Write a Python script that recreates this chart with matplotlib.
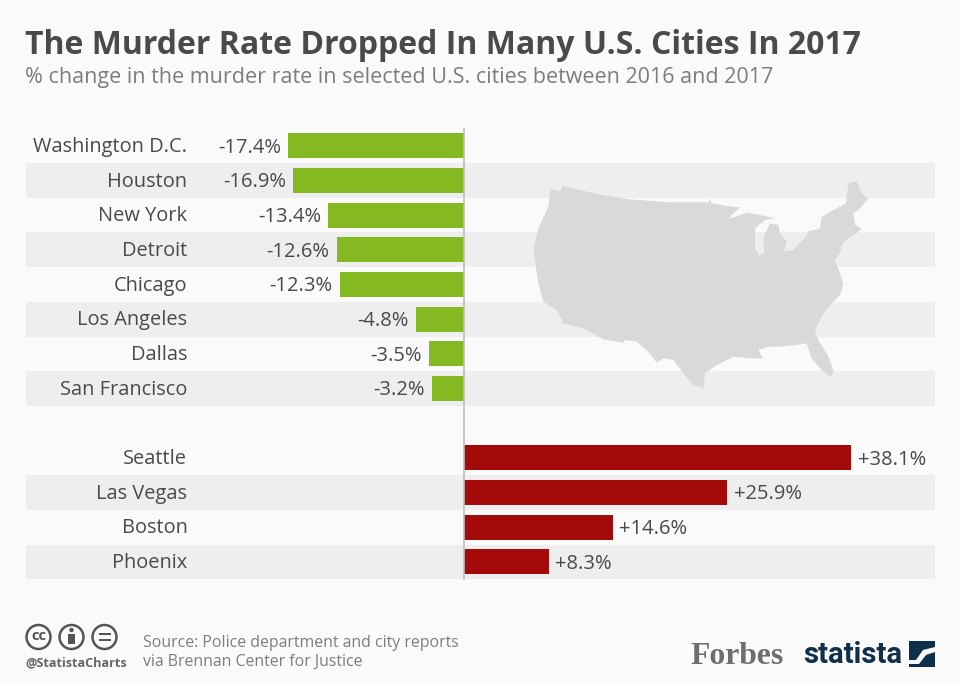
#!/usr/bin/python
# murder rate change chart, statista style
import matplotlib
matplotlib.use('Agg')
import matplotlib.pyplot as plt
from matplotlib.patches import Circle, Polygon, Rectangle

plt.rcParams['font.family'] = ['Open Sans', 'DejaVu Sans']

cities_down = ['Washington D.C.', 'Houston', 'New York', 'Detroit', 'Chicago',
               'Los Angeles', 'Dallas', 'San Francisco']
values_down = [-17.4, -16.9, -13.4, -12.6, -12.3, -4.8, -3.5, -3.2]
cities_up = ['Seattle', 'Las Vegas', 'Boston', 'Phoenix']
values_up = [38.1, 25.9, 14.6, 8.3]

map_outline = [(92,55),(120,65),(128,47),(230,72),(330,88),(450,97),(565,97),(570,88),(575,100),
               (620,108),(660,112),(625,145),(650,140),(680,128),(720,135),(765,145),(735,150),
               (705,175),(705,235),(718,258),(733,248),(730,205),(750,160),(775,165),(780,190),
               (800,215),(792,245),(820,240),(862,195),(862,185),(900,175),(905,140),(950,115),
               (978,100),(985,40),(1010,35),(1025,70),(1045,85),(1020,115),(1000,130),(1005,165),
               (1025,175),(1010,190),(985,205),(965,225),(960,250),(945,270),(960,310),(970,345),
               (960,375),(940,395),(910,430),(885,480),(895,510),(925,560),(942,605),(930,620),
               (905,600),(875,565),(860,520),(830,525),(780,530),(750,530),(715,540),(730,565),
               (690,565),(640,560),(590,585),(555,610),(550,655),(520,645),(490,610),(460,570),
               (430,565),(410,578),(385,545),(350,515),(315,510),(310,518),(250,508),(190,475),
               (130,460),(110,420),(70,395),(55,340),(40,240),(55,175),(85,110)]

BG = '#fafafa'
BAND = '#eeeeee'
GREEN = '#85b922'
RED = '#a50a0a'
TEXT = '#4a4a4a'
GREY = '#7d7d7d'

W, H = 960, 684
fig = plt.figure(figsize=(W / 100, H / 100), dpi=100, facecolor=BG)

# overlay in pixel coordinates for titles and logos
px = fig.add_axes([0, 0, 1, 1], zorder=1)
px.set_xlim(0, W)
px.set_ylim(H, 0)
px.axis('off')

# bar axes, 10.15 px per percent point, zero at x=464.5
top, bottom = 128.0, 580.0
left, right = 26.0, 935.0
ax = fig.add_axes([left / W, 1 - bottom / H, (right - left) / W, (bottom - top) / H], zorder=2)
ax.patch.set_alpha(0)
ax.set_xlim((left - 464.5) / 10.15, (right - 464.5) / 10.15)
row_h = 34.68
ax.set_ylim((bottom - 145.8) / row_h, (top - 145.8) / row_h)
ax.axis('off')


def draw_group(names, vals, start):
    for k, (city, val) in enumerate(zip(names, vals)):
        i = start + k
        if k % 2 == 1:
            ax.axhspan(i - 0.5, i + 0.5, color=BAND, lw=0, zorder=0)
        ax.barh(i, val, height=0.72, color=GREEN if val < 0 else RED, lw=0, zorder=3)
        ax.text(-27.3, i + 0.03, city, ha='right', va='center', fontsize=14.4, color=TEXT, zorder=4)
        label = '%+.1f%%' % val
        if val < 0:
            ax.text(val - 0.7, i + 0.05, label, ha='right', va='center', fontsize=14.5, color=TEXT, zorder=4)
        else:
            ax.text(val + 0.65, i + 0.05, label, ha='left', va='center', fontsize=14.5, color=TEXT, zorder=4)


draw_group(cities_down, values_down, 0)
draw_group(cities_up, values_up, len(cities_down) + 1)

ax.axvline(0, color='#bdbdbd', lw=1.2, zorder=5)

# map sits above the bands, below the bars
map_pts = [(520 + x / 3.0, 170 + y / 3.0) for x, y in map_outline]
ax.add_patch(Polygon([ax.transData.inverted().transform(px.transData.transform(p)) for p in map_pts],
                     closed=True, fc='#d9d9d9', ec='none', zorder=1))

# titles
px.text(25, 45, 'The Murder Rate Dropped In Many U.S. Cities In 2017', fontsize=23.05,
        fontweight='bold', color=TEXT, va='center', ha='left')
px.text(25, 77, '% change in the murder rate in selected U.S. cities between 2016 and 2017',
        fontsize=15.5, color=GREY, va='center', ha='left')

# licence icons
for cx in (38.5, 71.5, 104.5):
    px.add_patch(Circle((cx, 637), 12, fc='none', ec='#555555', lw=1.8))
px.text(38.5, 636.5, 'cc', fontsize=10.5, fontweight='bold', color='#555555', ha='center', va='center')
px.add_patch(Circle((71.5, 630), 2.2, fc='#555555', ec='none'))
px.add_patch(Rectangle((68, 633.5), 7, 10, fc='#555555', ec='none'))
px.add_patch(Rectangle((98.5, 632.5), 12, 2.5, fc='#555555', ec='none'))
px.add_patch(Rectangle((98.5, 638.5), 12, 2.5, fc='#555555', ec='none'))
px.text(25, 663, '@StatistaCharts', fontsize=9.05, fontweight='bold', color='#666666', va='center', ha='left')

# source
px.text(143, 643, 'Source: Police department and city reports', fontsize=11.45, color=GREY, va='center', ha='left')
px.text(143, 662, 'via Brennan Center for Justice', fontsize=11.45, color=GREY, va='center', ha='left')

# logos
px.text(690, 656, 'Forbes', fontsize=22.8, fontweight='bold', family='Liberation Serif',
        color='#6e6e6e', va='center', ha='left')
px.text(803, 655, 'statista', fontsize=21.2, fontweight='bold', family='Roboto',
        color='#0f2f4a', va='center', ha='left')
px.add_patch(Rectangle((909, 641), 26, 26, fc='#0f2f4a', ec='none'))
px.add_patch(Polygon([(909, 660), (916, 660), (923, 650), (935, 647), (935, 652), (926, 655), (919, 664), (909, 664)],
                     closed=True, fc=BG, ec='none'))

fig.savefig('out.png', dpi=100, facecolor=BG)
